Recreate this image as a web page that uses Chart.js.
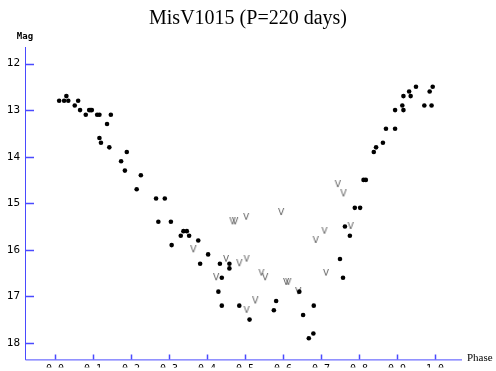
<!DOCTYPE html>
<html>
<head>
<meta charset="utf-8">
<style>
html,body{margin:0;padding:0;background:#fff;}
#wrap{width:496px;height:371px;position:relative;}
</style>
<script src="https://cdn.jsdelivr.net/npm/chart.js@4.4.1/dist/chart.umd.min.js"></script>
</head>
<body>
<div id="wrap"><canvas id="c" width="496" height="371"></canvas></div>
<script>
// Detections: phase and magnitude
const detPhase = [0.011,0.024,0.030,0.035,0.052,0.061,0.066,0.081,0.090,0.094,0.097,0.111,0.117,0.147,0.137,0.117,0.121,0.143,0.189,0.174,0.184,0.226,0.215,0.266,0.289,0.272,0.305,0.338,0.347,0.331,0.353,0.377,0.307,0.403,0.382,0.434,0.459,0.459,0.439,0.430,0.439,0.485,0.512,0.582,0.576,0.643,0.681,0.653,0.680,0.668,0.812,0.818,0.789,0.803,0.763,0.776,0.750,0.758,0.950,0.994,0.932,0.986,0.917,0.936,0.914,0.972,0.991,0.895,0.917,0.871,0.895,0.863,0.845,0.839];
const detMag   = [12.8,12.8,12.7,12.8,12.9,12.8,13.0,13.1,13.0,13.0,13.0,13.1,13.1,13.1,13.3,13.6,13.7,13.8,13.9,14.1,14.3,14.4,14.7,14.9,14.9,15.4,15.4,15.6,15.6,15.7,15.7,15.8,15.9,16.1,16.3,16.3,16.3,16.4,16.6,16.9,17.2,17.2,17.5,17.1,17.3,16.9,17.2,17.4,17.8,17.9,14.5,14.5,15.1,15.1,15.5,15.7,16.2,16.6,12.5,12.5,12.6,12.6,12.7,12.7,12.9,12.9,12.9,13.0,13.0,13.4,13.4,13.7,13.8,13.9];
// Upper limits ("V" markers)
const limPhase = [0.467,0.474,0.503,0.595,0.686,0.364,0.450,0.485,0.504,0.424,0.543,0.553,0.608,0.614,0.640,0.527,0.504,0.744,0.759,0.778,0.709,0.713];
const limMag   = [15.4,15.4,15.3,15.2,15.8,16.0,16.2,16.3,16.2,16.6,16.5,16.6,16.7,16.7,16.9,17.1,17.3,14.6,14.8,15.5,15.6,16.5];
const xTicks = [0.0,0.1,0.2,0.3,0.4,0.5,0.6,0.7,0.8,0.9,1.0];
const yTicks = [12,13,14,15,16,17,18];
const titleText = 'MisV1015 (P=220 days)';
const xTitle = 'Phase';
const yTitle = 'Mag';

const AXIS = '#4a4aff';

// V marker image
const vImg = document.createElement('canvas');
vImg.width = 8; vImg.height = 9;
(function(){
  const g = vImg.getContext('2d');
  g.fillStyle = '#5a5a5a';
  g.font = '9px "DejaVu Sans"';
  g.textAlign = 'center';
  g.textBaseline = 'middle';
  g.fillText('V', 4, 5);
})();

const axesPlugin = {
  id: 'axesPlugin',
  afterDraw(chart) {
    const ctx = chart.ctx;
    const a = chart.chartArea;
    const xs = chart.scales.x, ys = chart.scales.y;
    ctx.save();
    ctx.strokeStyle = AXIS;
    ctx.lineWidth = 1;
    ctx.beginPath();
    ctx.moveTo(a.left + 0.5, a.top);
    ctx.lineTo(a.left + 0.5, a.bottom + 0.5);
    ctx.lineTo(a.right, a.bottom + 0.5);
    ctx.stroke();
    ctx.lineWidth = 1.5;
    ctx.beginPath();
    yTicks.forEach(v => {
      const y = Math.round(ys.getPixelForValue(v)) + 0.5;
      ctx.moveTo(a.left, y); ctx.lineTo(a.left + 9, y);
    });
    xTicks.forEach(v => {
      const x = Math.round(xs.getPixelForValue(v)) + 0.5;
      ctx.moveTo(x, a.bottom); ctx.lineTo(x, a.bottom - 5);
    });
    ctx.stroke();
    ctx.fillStyle = '#000';
    ctx.font = '11px "Liberation Serif"';
    ctx.textAlign = 'left';
    ctx.textBaseline = 'middle';
    ctx.fillText(xTitle, a.right + 5, a.bottom - 1);
    ctx.font = 'bold 9px "DejaVu Sans Mono"';
    ctx.textAlign = 'center';
    ctx.fillText(yTitle, 25, 37);
    ctx.restore();
  }
};

new Chart(document.getElementById('c'), {
  type: 'scatter',
  data: {
    datasets: [
      {
        label: 'det',
        data: detPhase.map((p, i) => ({x: p, y: detMag[i]})),
        backgroundColor: '#000',
        borderColor: '#000',
        pointRadius: 2.3,
        pointHoverRadius: 2.3,
        borderWidth: 0
      },
      {
        label: 'lim',
        data: limPhase.map((p, i) => ({x: p, y: limMag[i]})),
        pointStyle: vImg,
        pointRadius: 4
      }
    ]
  },
  options: {
    responsive: false,
    animation: false,
    events: [],
    layout: { padding: { top: 47, right: 34, left: 0, bottom: 0 } },
    plugins: {
      legend: { display: false },
      tooltip: { enabled: false },
      title: { display: false }
    },
    scales: {
      x: {
        type: 'linear',
        min: -0.0789,
        max: 1.0711,
        grid: { display: false, drawTicks: false },
        border: { display: false },
        afterFit(s) { s.height = 8; },
        afterBuildTicks(s) { s.ticks = xTicks.map(v => ({value: v})); },
        ticks: {
          padding: 4,
          color: '#000',
          font: { family: 'DejaVu Sans Mono', size: 10 },
          maxRotation: 0,
          autoSkip: false,
          callback: v => Number(v).toFixed(1)
        }
      },
      y: {
        type: 'linear',
        reverse: true,
        min: 11.645,
        max: 18.355,
        grid: { display: false, drawTicks: false },
        border: { display: false },
        afterFit(s) { s.width = 25; },
        afterBuildTicks(s) { s.ticks = yTicks.map(v => ({value: v})); },
        ticks: {
          padding: 5,
          color: '#000',
          font: { family: 'DejaVu Sans Mono', size: 11 },
          autoSkip: false,
          callback: v => String(v)
        }
      }
    }
  },
  plugins: [axesPlugin, {
    id: 'titleDraw',
    afterDraw(chart) {
      const ctx = chart.ctx;
      ctx.save();
      ctx.fillStyle = '#000';
      ctx.font = '20px "Liberation Serif"';
      ctx.textAlign = 'center';
      ctx.textBaseline = 'middle';
      ctx.fillText(titleText, 248, 19);
      ctx.restore();
    }
  }]
});
</script>
</body>
</html>
